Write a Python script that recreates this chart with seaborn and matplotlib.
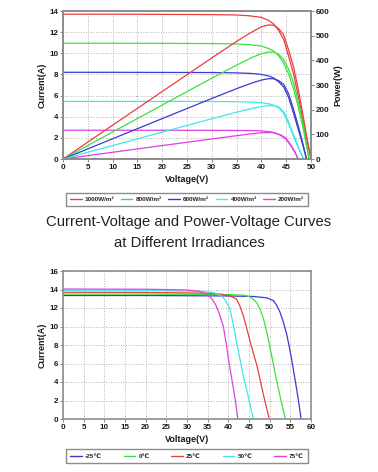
import numpy as np
import pandas as pd
import seaborn as sns
import matplotlib.pyplot as plt
from matplotlib.lines import Line2D

# ---- top chart: I-V / P-V at different irradiances ----
irr_labels = ["1000W/m²", "800W/m²", "600W/m²", "400W/m²", "200W/m²"]
irr_colors = ["#e8403a", "#3ee03e", "#3a3ad0", "#3ee8ee", "#e040e0"]

v_1000 = [0, 10, 20, 30, 35, 37.5, 40, 41.5, 42.5, 43.5, 44.5, 45.5, 46.5, 47.5, 48.5, 49.2, 50]
i_1000 = [13.7, 13.7, 13.68, 13.66, 13.62, 13.55, 13.4, 13.1, 12.75, 12.15, 11.3, 9.7, 8.0, 5.8, 3.4, 1.7, 0]

v_800 = [0, 10, 20, 30, 35, 38, 40, 41.5, 42.5, 43.5, 44.5, 45.5, 46.5, 47.5, 48.5, 49.6]
i_800 = [10.95, 10.95, 10.94, 10.92, 10.88, 10.8, 10.68, 10.45, 10.2, 9.75, 9.05, 8.0, 6.6, 4.8, 2.7, 0]

v_600 = [0, 10, 20, 30, 35, 38, 40, 41.5, 42.5, 43.5, 44.5, 45.5, 46.5, 47.5, 48.3, 49.1]
i_600 = [8.2, 8.2, 8.19, 8.18, 8.15, 8.09, 8.0, 7.85, 7.65, 7.3, 6.8, 5.8, 4.3, 2.7, 1.4, 0]

v_400 = [0, 10, 20, 30, 35, 38, 40, 41.5, 42.5, 43.5, 44.5, 45.5, 46.5, 47.5, 48.5]
i_400 = [5.45, 5.45, 5.45, 5.44, 5.42, 5.38, 5.32, 5.22, 5.08, 4.85, 4.3, 3.3, 2.1, 1.0, 0]

v_200 = [0, 10, 20, 30, 35, 38, 40, 42, 43, 44, 45, 46, 46.8, 47.4]
i_200 = [2.72, 2.72, 2.72, 2.71, 2.7, 2.69, 2.66, 2.56, 2.42, 2.2, 1.85, 1.2, 0.6, 0]

# ---- bottom chart: I-V at different temperatures ----
temp_labels = ["-25℃", "0℃", "25℃", "50℃", "75℃"]
temp_colors = ["#3a3ad0", "#3ee03e", "#e8403a", "#3ee8ee", "#e040e0"]

v_m25 = [0, 20, 40, 46, 49.3, 50.9, 51.7, 52.5, 53.3, 54.1, 54.7, 55.3, 55.9, 56.5, 57.1, 57.6]
i_m25 = [13.35, 13.35, 13.3, 13.25, 13.1, 12.8, 12.3, 11.55, 10.5, 9.2, 7.9, 6.5, 4.9, 3.3, 1.6, 0]

v_0 = [0, 20, 40, 44, 45.2, 46.0, 46.9, 47.7, 48.5, 49.3, 50.1, 50.9, 51.7, 52.8, 53.8]
i_0 = [13.5, 13.5, 13.45, 13.38, 13.2, 12.95, 12.55, 11.85, 10.85, 9.4, 7.7, 5.9, 4.1, 1.9, 0]

v_25 = [0, 20, 35, 38, 40, 41, 42, 42.8, 43.6, 44.4, 45.2, 46.0, 46.9, 47.7, 48.5, 49.2, 49.9]
i_25 = [13.7, 13.68, 13.6, 13.5, 13.35, 13.2, 12.95, 12.2, 11.2, 9.9, 8.5, 7.2, 5.8, 4.2, 2.6, 1.3, 0]

v_50 = [0, 20, 34, 37, 38.4, 39.4, 40.4, 41.2, 42, 42.8, 43.6, 44.4, 45.2, 46.05]
i_50 = [13.9, 13.88, 13.8, 13.6, 13.3, 12.75, 11.9, 10.2, 8.3, 6.5, 4.7, 3.2, 1.7, 0]

v_75 = [0, 20, 30, 33, 34.8, 36, 37, 37.9, 38.8, 39.5, 40.2, 41, 41.7, 42.3]
i_75 = [14.05, 14.03, 13.95, 13.8, 13.5, 13.0, 12.3, 11.3, 10.0, 8.1, 6.0, 3.9, 2.0, 0]


def build(labels, vs, cs):
    frames = []
    for lab, v, c in zip(labels, vs, cs):
        frames.append(pd.DataFrame({"V": v, "I": c, "label": lab}))
    df = pd.concat(frames, ignore_index=True)
    df["P"] = df["V"] * df["I"]
    return df


sns.set_style("whitegrid")
plt.rcParams["font.family"] = ["Liberation Sans", "DejaVu Sans"]

GRID = dict(ls=(0, (1, 2)), color="#9a9a9a", lw=0.6)
SPINE = "#8c8c8c"
TICK_KW = dict(labelsize=5.8, length=2, width=0.6, color="#777777", pad=1.5,
               labelcolor="#1a1a1a")
LABEL_KW = dict(fontsize=6.5, fontweight="bold", color="#1a1a1a")


def bold_ticks(ax):
    for t in ax.get_xticklabels() + ax.get_yticklabels():
        t.set_fontweight("bold")


def style_axis(ax):
    ax.grid(True, **GRID)
    for s in ax.spines.values():
        s.set_color(SPINE)
        s.set_linewidth(1.2)
    ax.tick_params(left=True, bottom=True, **TICK_KW)
    bold_ticks(ax)


fig = plt.figure(figsize=(3.78, 4.72), dpi=100)
W, H = 378, 472

# top chart
ax1 = fig.add_axes([63 / W, 1 - 159 / H, 248 / W, 148 / H])
df1 = build(irr_labels, [v_1000, v_800, v_600, v_400, v_200],
            [i_1000, i_800, i_600, i_400, i_200])
pal1 = dict(zip(irr_labels, irr_colors))
sns.lineplot(data=df1, x="V", y="I", hue="label", palette=pal1, estimator=None,
             sort=False, legend=False, lw=0.9, ax=ax1)
ax1.set_xlim(0, 50)
ax1.set_ylim(0, 14)
ax1.set_xticks(range(0, 51, 5))
ax1.set_yticks(range(0, 15, 2))
ax1.set_xlabel("Voltage(V)", labelpad=3, **LABEL_KW)
ax1.set_ylabel("Current(A)", labelpad=2, **LABEL_KW)
style_axis(ax1)

ax1r = ax1.twinx()
sns.lineplot(data=df1, x="V", y="P", hue="label", palette=pal1, estimator=None,
             sort=False, legend=False, lw=0.9, ax=ax1r)
ax1r.set_ylim(0, 600)
ax1r.set_yticks(range(0, 601, 100))
ax1r.grid(False)
ax1r.set_ylabel("Power(W)", labelpad=3, **LABEL_KW)
for s in ax1r.spines.values():
    s.set_color(SPINE)
    s.set_linewidth(1.2)
ax1r.tick_params(right=True, **TICK_KW)
bold_ticks(ax1r)

# bottom chart
ax2 = fig.add_axes([63 / W, 1 - 419 / H, 248 / W, 148 / H])
df2 = build(temp_labels, [v_m25, v_0, v_25, v_50, v_75],
            [i_m25, i_0, i_25, i_50, i_75])
pal2 = dict(zip(temp_labels, temp_colors))
sns.lineplot(data=df2, x="V", y="I", hue="label", palette=pal2, estimator=None,
             sort=False, legend=False, lw=0.9, ax=ax2)
ax2.set_xlim(0, 60)
ax2.set_ylim(0, 16)
ax2.set_xticks(range(0, 61, 5))
ax2.set_yticks(range(0, 17, 2))
ax2.set_xlabel("Voltage(V)", labelpad=3, **LABEL_KW)
ax2.set_ylabel("Current(A)", labelpad=2, **LABEL_KW)
style_axis(ax2)


# legends
def add_legend(labels, colors, top_px, bottom_px):
    handles = [Line2D([0], [0], color=c, lw=1) for c in colors]
    fig.legend(handles, labels, loc="center",
               bbox_to_anchor=(63 / W, 1 - bottom_px / H, 248 / W, (bottom_px - top_px) / H),
               mode="expand", ncol=5, frameon=True, fancybox=False,
               edgecolor="#8c8c8c", framealpha=1, handlelength=1.8, handletextpad=0.5,
               borderpad=0.6, prop={"size": 4.6, "weight": "bold"})


add_legend(irr_labels, irr_colors, 193, 206)
add_legend(temp_labels, temp_colors, 447, 465)

fig.text(0.5, 1 - 222 / H, "Current-Voltage and Power-Voltage Curves", ha="center",
         va="center", fontsize=10.7, color="#222222")
fig.text(0.5, 1 - 243 / H, "at Different Irradiances", ha="center",
         va="center", fontsize=10.7, color="#222222")

fig.savefig("out.png", dpi=100)
